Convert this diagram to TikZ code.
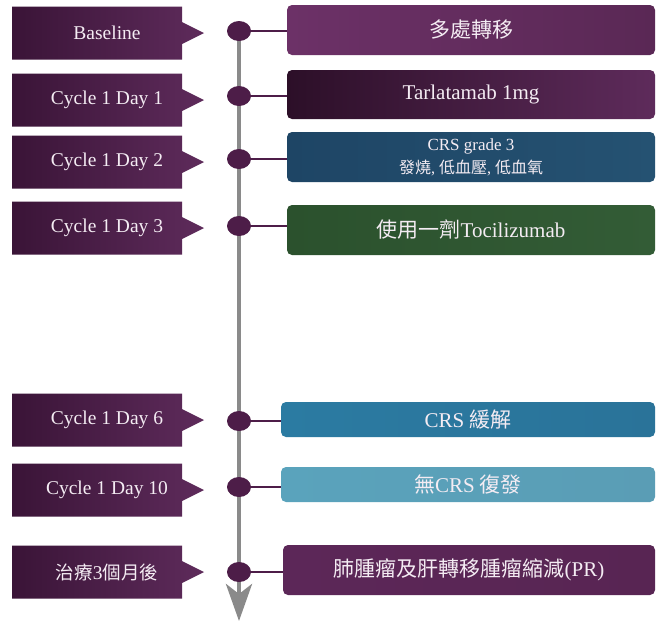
\documentclass[tikz,border=0pt]{standalone}
\usepackage{fontspec}
\setmainfont{Liberation Serif}
\newfontfamily\cjk{Noto Sans CJK TC}
\usetikzlibrary{arrows.meta,shapes.geometric}
\definecolor{tagL}{HTML}{3A1437}
\definecolor{tagR}{HTML}{5E2B5B}
\definecolor{dotc}{HTML}{4D1D48}
\definecolor{linec}{HTML}{8A8A8A}
\definecolor{txt}{HTML}{F4ECF3}
\definecolor{bAl}{HTML}{6C3167}
\definecolor{bAr}{HTML}{5A2855}
\definecolor{bBl}{HTML}{2C0F28}
\definecolor{bBr}{HTML}{5E2B5B}
\definecolor{bCl}{HTML}{1E4565}
\definecolor{bCr}{HTML}{255272}
\definecolor{bDl}{HTML}{2B512D}
\definecolor{bDr}{HTML}{335C36}
\definecolor{bEl}{HTML}{2B7BA2}
\definecolor{bEm}{HTML}{1F4D70}
\definecolor{bEr}{HTML}{2A7399}
\definecolor{bFl}{HTML}{5AA3BC}
\definecolor{bFr}{HTML}{5A9DB5}
\definecolor{bGl}{HTML}{5C2758}
\definecolor{bGr}{HTML}{582553}
\newcommand{\mytag}[3]{%
  \shade[left color=tagL,right color=tagR]
    (12,{#2-26.5}) -- (182,{#2-26.5}) -- (182,{#2-11}) -- (204,#2)
    -- (182,{#2+11}) -- (182,{#2+26.5}) -- (12,{#2+26.5}) -- cycle;
  \node[tagtext] (#1) at (107,#2) {#3};}
\begin{document}
\begin{tikzpicture}[x=1pt,y=-1pt,
  tagtext/.style={text=txt,font=\fontsize{19.5}{22}\selectfont,inner sep=0pt},
  dotnode/.style={ellipse,fill=dotc,minimum width=24pt,minimum height=20pt,inner sep=0pt},
  conn/.style={draw=dotc,line width=1.3pt},
  timeline/.style={draw=linec,line width=4.5pt,-{Stealth[length=37pt,width=26pt,inset=10pt]}},
  ebox/.style={rounded corners=5pt,text=txt,align=center,inner sep=0pt,
    font=\fontsize{21}{24}\selectfont},
  tallbox/.style={ebox,minimum width=368pt,minimum height=50pt},
  flatbox/.style={ebox,minimum width=374pt,minimum height=35pt}]
\useasboundingbox (0,0) rectangle (656,622);
\fill[white] (0,0) rectangle (656,622);
% tags
\mytag{t1}{33}{Baseline}
\mytag{t2}{100}{Cycle 1 Day 1}
\mytag{t3}{162}{Cycle 1 Day 2}
\mytag{t4}{228}{Cycle 1 Day 3}
\mytag{t5}{420}{Cycle 1 Day 6}
\mytag{t6}{490}{Cycle 1 Day 10}
\mytag{t7}{572}{{\cjk\fontsize{18.5}{22}\selectfont 治療}3{\cjk\fontsize{18.5}{22}\selectfont 個月後}}
% event boxes
\node[tallbox,left color=bAl,right color=bAr] (b1) at (471,30) {\cjk 多處轉移};
\node[tallbox,left color=bBl,right color=bBr,minimum height=49pt] (b2) at (471,94.5) {Tarlatamab 1mg};
\node[tallbox,left color=bCl,right color=bCr] (b3) at (471,157)
  {\fontsize{17}{19}\selectfont CRS grade 3\\[-1pt]\fontsize{16}{18}\selectfont{\cjk 發燒}, {\cjk 低血壓}, {\cjk 低血氧}};
\node[tallbox,left color=bDl,right color=bDr] (b4) at (471,230) {{\cjk 使用一劑}Tocilizumab};
\node[flatbox,left color=bEl,middle color=bEm,right color=bEr] (b5) at (468,419.5) {CRS {\cjk 緩解}};
\node[flatbox,left color=bFl,right color=bFr] (b6) at (468,484.5) {{\cjk 無}CRS {\cjk 復發}};
\node[ebox,minimum width=372pt,minimum height=50pt,left color=bGl,right color=bGr] (b7) at (469,570)
  {{\cjk 肺腫瘤及肝轉移腫瘤縮減}(PR)};
% timeline
\coordinate (top) at (239,31);
\coordinate (tip) at (239,621);
\draw[timeline] (top) -- (tip);
% dots
\node[dotnode] (d1) at (239,31) {};
\node[dotnode] (d2) at (239,96) {};
\node[dotnode] (d3) at (239,159) {};
\node[dotnode] (d4) at (239,226) {};
\node[dotnode] (d5) at (239,421) {};
\node[dotnode] (d6) at (239,487) {};
\node[dotnode] (d7) at (239,572) {};
% connectors
\foreach \i in {1,...,7}{\draw[conn] (d\i.east) -- (d\i.east -| b\i.west);}
\end{tikzpicture}
\end{document}
